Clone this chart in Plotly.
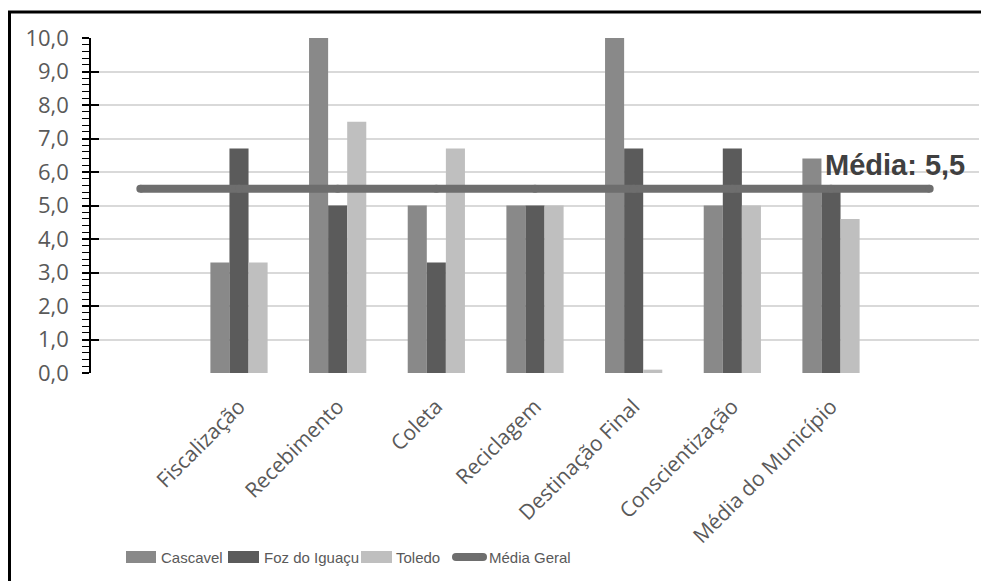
import plotly.graph_objects as go

# Categories (first and last slots are left blank so the average line spans past the groups)
categories = ["", "Fiscalização", "Recebimento", "Coleta", "Reciclagem",
              "Destinação Final", "Conscientização", "Média do Município", ""]
cascavel = [None, 3.3, 10.0, 5.0, 5.0, 10.0, 5.0, 6.4, None]
foz = [None, 6.7, 5.0, 3.3, 5.0, 6.7, 6.7, 5.6, None]
toledo = [None, 3.3, 7.5, 6.7, 5.0, 0.1, 5.0, 4.6, None]
media_geral = [5.5] * 9
media_label = "Média: 5,5"

series_names = ["Cascavel", "Foz do Iguaçu", "Toledo", "Média Geral"]
colors = ["#898989", "#5b5b5b", "#bfbfbf", "#6e6e6e"]
text_color = "#595959"

x = list(range(len(categories)))

fig = go.Figure()
for name, vals, col in zip(series_names[:3], [cascavel, foz, toledo], colors[:3]):
    fig.add_trace(go.Bar(x=x, y=vals, name=name, marker=dict(color=col, line=dict(width=0)),
                         showlegend=False))

fig.add_trace(go.Scatter(x=x, y=media_geral, name=series_names[3], mode="lines+markers",
                         line=dict(color=colors[3], width=8),
                         marker=dict(color=colors[3], size=8, line=dict(width=0)),
                         showlegend=False))

# Secondary y axis drawn on top only for the inward half of the major ticks
fig.add_trace(go.Scatter(x=[0], y=[0], yaxis="y2", mode="markers",
                         marker=dict(opacity=0), showlegend=False, hoverinfo="skip"))

L, R, T, B = 91, 2, 38, 208
W, H = 981, 581
pw, ph = W - L - R, H - T - B

def px(xp):
    return (xp - L) / pw

def py(yp):
    return (H - B - yp) / ph

shapes = []
annotations = []

# Outer frame (extends past the right and bottom edges)
shapes.append(dict(type="rect", xref="paper", yref="paper",
                   x0=px(9.5), x1=px(W + 20), y0=py(H + 20), y1=py(12),
                   line=dict(color="black", width=3), fillcolor="rgba(0,0,0,0)", layer="above"))

# Legend drawn as swatches and labels
legend_font = dict(family="Liberation Sans, Arial", size=15, color=text_color)
legend_y = 557
swatches = [(126, 156, 159), (228, 259, 262), (361, 392, 394)]
for (x0, x1, tx), name, col in zip(swatches, series_names[:3], colors[:3]):
    shapes.append(dict(type="rect", xref="paper", yref="paper",
                       x0=px(x0), x1=px(x1), y0=py(legend_y + 6), y1=py(legend_y - 6),
                       fillcolor=col, line=dict(width=0)))
    annotations.append(dict(xref="paper", yref="paper", x=px(tx), y=py(legend_y),
                            text=name, showarrow=False, xanchor="left", yanchor="middle",
                            font=legend_font))
shapes.append(dict(type="line", xref="paper", yref="paper",
                   x0=px(456), x1=px(483), y0=py(legend_y), y1=py(legend_y),
                   line=dict(color=colors[3], width=8)))
for cx in (456, 483):
    shapes.append(dict(type="circle", xref="paper", yref="paper",
                       x0=px(cx - 4), x1=px(cx + 4), y0=py(legend_y + 4), y1=py(legend_y - 4),
                       fillcolor=colors[3], line=dict(width=0)))
annotations.append(dict(xref="paper", yref="paper", x=px(487), y=py(legend_y),
                        text=series_names[3], showarrow=False, xanchor="left", yanchor="middle",
                        font=legend_font))

# Label of the overall average
annotations.append(dict(x=6.92, y=6.2, xref="x", yref="y", text="<b>%s</b>" % media_label,
                        showarrow=False, xanchor="left", yanchor="middle",
                        font=dict(family="Liberation Sans, Arial", size=29, color="#404040")))

fig.update_layout(
    width=W, height=H,
    margin=dict(l=L, r=R, t=T, b=B, pad=0),
    paper_bgcolor="white", plot_bgcolor="white",
    separators=",.",
    barmode="group", bargap=0.42, bargroupgap=0,
    shapes=shapes, annotations=annotations,
    showlegend=False,
    xaxis=dict(
        range=[-0.5, len(categories) - 0.5],
        tickmode="array", tickvals=x[1:-1], ticktext=categories[1:-1],
        tickangle=-45, ticks="outside", ticklen=12, tickcolor="rgba(0,0,0,0)",
        tickfont=dict(family="Open Sans", size=21, color=text_color),
        showgrid=False, zeroline=False, showline=False,
    ),
    yaxis=dict(
        range=[0, 10], tickmode="linear", tick0=0, dtick=1, tickformat=".1f",
        ticks="outside", ticklen=7, tickwidth=1.5, tickcolor="black",
        minor=dict(dtick=0.2, ticks="outside", ticklen=7, tickwidth=1.2,
                   tickcolor="black", showgrid=False),
        showline=True, linecolor="black", linewidth=1.5,
        showgrid=True, gridcolor="#d9d9d9", gridwidth=1.5,
        zeroline=False,
        ticklabelstandoff=9,
        tickfont=dict(family="Open Sans", size=22, color=text_color),
    ),
    yaxis2=dict(
        overlaying="y", side="left", range=[0, 10], tickmode="linear", tick0=0, dtick=1,
        ticks="inside", ticklen=8, tickwidth=1.5, tickcolor="black",
        showticklabels=False, showgrid=False, zeroline=False, showline=False,
    ),
)

fig.write_html("out.html")
